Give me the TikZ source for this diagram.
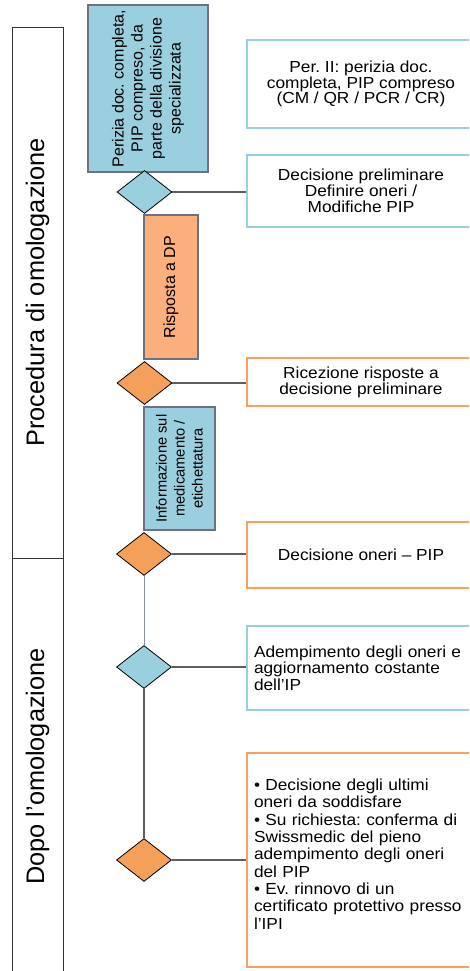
\documentclass[tikz,border=0pt]{standalone}
\usepackage{fontspec}
\setmainfont{Liberation Sans}
\newfontfamily\widesans[FakeStretch=1.08]{Liberation Sans}
\usetikzlibrary{shapes.geometric}
\definecolor{blueFill}{RGB}{153,207,222}
\definecolor{orangeLight}{RGB}{251,175,124}
\definecolor{orangeDia}{RGB}{245,160,90}
\definecolor{rectBorder}{RGB}{112,112,128}
\definecolor{blueBorder}{RGB}{150,208,224}
\definecolor{orangeBorder}{RGB}{255,158,90}
\definecolor{connGray}{RGB}{95,95,95}
\definecolor{connBlue}{RGB}{135,145,165}
\begin{document}
\frenchspacing
\begin{tikzpicture}[x=0.75pt,y=-0.75pt,
  lane/.style={draw=black!80,line width=0.75pt,rotate=90,inner sep=0pt,
    font=\fontsize{19}{22}\selectfont,minimum height=38.25pt},
  vbox/.style={draw=rectBorder,line width=0.8pt,rotate=90,inner sep=0pt,align=center},
  dia/.style={diamond,draw=black,line width=0.6pt,inner sep=0pt,
    minimum width=41.25pt,minimum height=32.25pt},
  rbox/.style={draw,line width=1pt,minimum width=171pt,inner sep=0pt,align=center,
    font=\widesans\fontsize{12}{11.8}\selectfont},
  lbox/.style={draw,line width=1pt,minimum width=171pt,inner xsep=5.25pt,inner ysep=0pt,
    text width=160.5pt,align=left},
  conn/.style={draw=connGray,line width=0.8pt}
]
\useasboundingbox (0,0) rectangle (469,971);
\clip (0,0) rectangle (469,971);

% swim lanes
\node[lane,minimum width=398.25pt] (lane1) at (37.5,292.5) {Procedura di omologazione};
\node[lane,minimum width=312.75pt] (lane2) at (37.5,766.5) {Dopo l’omologazione};

% vertical process boxes
\node[vbox,fill=blueFill,minimum width=125.25pt,minimum height=90pt,
  font=\fontsize{12}{14.2}\selectfont] (p1) at (148,88.5)
  {Perizia doc. completa,\\PIP compreso, da\\parte della divisione\\specializzata};
\node[vbox,fill=orangeLight,minimum width=108pt,minimum height=40.5pt,
  font=\fontsize{12}{14}\selectfont] (p2) at (171,287) {Risposta a DP};
\node[vbox,fill=blueFill,minimum width=92.25pt,minimum height=53.25pt,
  font=\fontsize{11}{13.5}\selectfont] (p3) at (179.5,468.5)
  {Informazione sul\\medicamento /\\etichettatura};

% decision diamonds
\node[dia,fill=blueFill] (d1) at (144.5,192) {};
\node[dia,fill=orangeDia] (d2) at (144.5,383) {};
\node[dia,fill=orangeDia] (d3) at (144,554) {};
\node[dia,fill=blueFill] (d4) at (144,667) {};
\node[dia,fill=orangeDia] (d5) at (144,860) {};

% right boxes
\node[rbox,draw=blueBorder,minimum height=66pt] (b1) at (361,84)
  {Per. II: perizia doc.\\completa, PIP compreso\\(CM / QR / PCR / CR)};
\node[rbox,draw=blueBorder,minimum height=54pt] (b2) at (361,191)
  {Decisione preliminare\\Definire oneri /\\Modifiche PIP};
\node[rbox,draw=orangeBorder,minimum height=36pt] (b3) at (361,382)
  {Ricezione risposte a\\decisione preliminare};
\node[rbox,draw=orangeBorder,minimum height=49.5pt] (b4) at (361,555)
  {Decisione oneri – PIP};
\node[lbox,draw=blueBorder,minimum height=63pt,font=\widesans\fontsize{12}{12.5}\selectfont] (b5) at (361,668)
  {Adempimento degli oneri e\\aggiornamento costante\\dell’IP};
\node[lbox,draw=orangeBorder,minimum height=160.5pt,font=\widesans\fontsize{12}{13}\selectfont] (b6) at (361,860)
  {\textbullet{} Decisione degli ultimi\\oneri da soddisfare\\\textbullet{} Su richiesta: conferma di\\Swissmedic del pieno\\adempimento degli oneri\\del PIP\\\textbullet{} Ev. rinnovo di un\\certificato protettivo presso\\l’IPI\\[-4pt]\mbox{}};

% connectors
\draw[conn] (d1.east) -- (d1.east -| b2.west);
\draw[conn] (d2.east) -- (d2.east -| b3.west);
\draw[conn] (d3.east) -- (d3.east -| b4.west);
\draw[conn] (d4.east) -- (d4.east -| b5.west);
\draw[conn] (d5.east) -- (d5.east -| b6.west);
\draw[draw=connBlue,line width=0.7pt] (d3.south) -- (d4.north);
\draw[conn] (d4.south) -- (d5.north);
\end{tikzpicture}
\end{document}
